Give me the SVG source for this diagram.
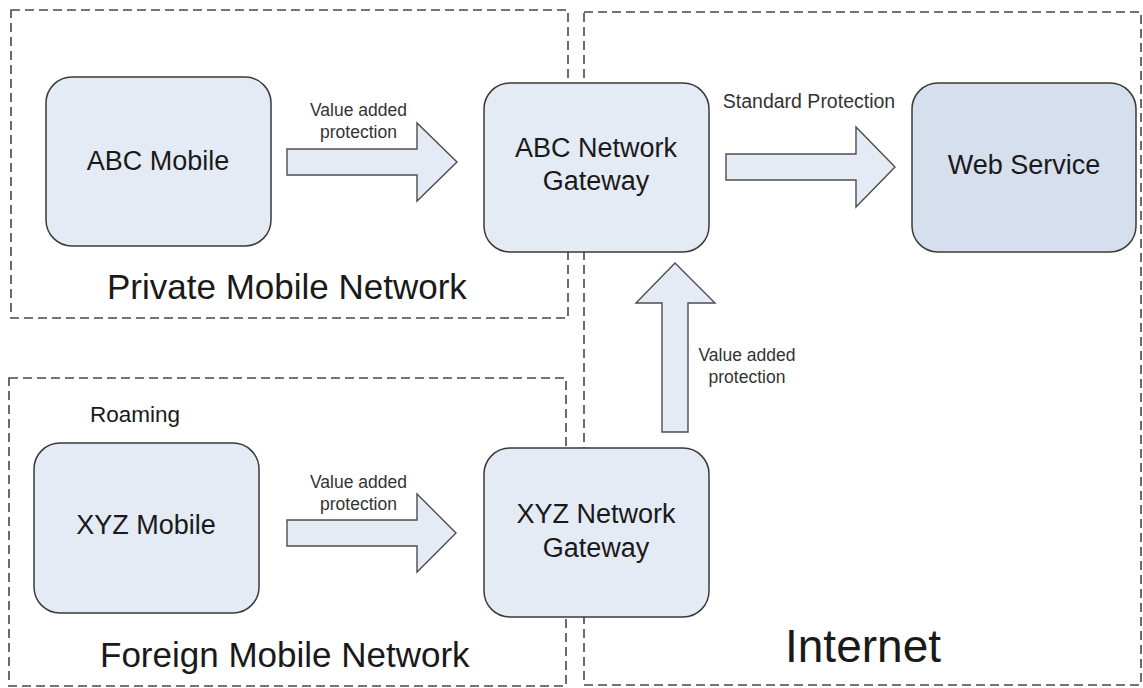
<svg xmlns="http://www.w3.org/2000/svg" width="1143" height="688" viewBox="0 0 1143 688">
  <style>
    text { font-family: "Liberation Sans", Arial, sans-serif; fill: #1a1a1a; }
    .zone { fill: none; stroke: #474747; stroke-width: 1.6; stroke-dasharray: 9 5; }
    .node { fill: #e5ebf5; stroke: #3a3a3a; stroke-width: 1.5; }
    .node.service { fill: #d6dfed; }
    .nlabel { font-size: 27px; text-anchor: middle; }
    .zlabel { font-size: 35px; }
    .flow { fill: #e5ebf5; stroke: #4d4d4d; stroke-width: 1.4; stroke-linejoin: miter; }
    .flabel { font-size: 17.5px; text-anchor: middle; fill: #333; }
  </style>

  <!-- network zones -->
  <g id="zones">
    <g id="zone-private">
      <rect class="zone" x="11" y="10" width="557" height="308"/>
      <text class="zlabel" x="107" y="299">Private Mobile Network</text>
    </g>
    <g id="zone-foreign">
      <rect class="zone" x="9" y="378" width="557" height="308"/>
      <text class="zlabel" x="100" y="667">Foreign Mobile Network</text>
      <text x="90" y="422" style="font-size:22.5px">Roaming</text>
    </g>
    <g id="zone-internet">
      <rect class="zone" x="584" y="12" width="557" height="673"/>
      <text x="785" y="662" style="font-size:46px">Internet</text>
    </g>
  </g>

  <!-- block-arrow connectors -->
  <g id="connectors">
    <g id="abc-mobile-to-abc-gateway">
      <polygon class="flow" points="287,149 417,149 417,123 457,162 417,201 417,175 287,175"/>
      <text class="flabel" x="358.5" y="116">Value added</text>
      <text class="flabel" x="358.5" y="138">protection</text>
    </g>
    <g id="abc-gateway-to-web-service">
      <polygon class="flow" points="726,154 856,154 856,127 895,167 856,207 856,180 726,180"/>
      <text x="809" y="108" style="font-size:19.5px;text-anchor:middle;fill:#333">Standard Protection</text>
    </g>
    <g id="xyz-mobile-to-xyz-gateway">
      <polygon class="flow" points="287,520 417,520 417,494 456,533 417,572 417,546 287,546"/>
      <text class="flabel" x="358.5" y="488">Value added</text>
      <text class="flabel" x="358.5" y="510">protection</text>
    </g>
    <g id="xyz-gateway-to-abc-gateway">
      <polygon class="flow" points="662,432 662,303 636,303 675,263 715,303 688,303 688,432"/>
      <text class="flabel" x="747" y="361">Value added</text>
      <text class="flabel" x="747" y="383">protection</text>
    </g>
  </g>

  <!-- nodes -->
  <g id="abc-mobile">
    <rect class="node" x="46" y="77" width="225" height="169" rx="26"/>
    <text class="nlabel" x="158" y="170">ABC Mobile</text>
  </g>
  <g id="abc-gateway">
    <rect class="node" x="484" y="83" width="225" height="169" rx="26"/>
    <text class="nlabel" x="596" y="157">ABC Network</text>
    <text class="nlabel" x="596" y="190">Gateway</text>
  </g>
  <g id="web-service">
    <rect class="node service" x="912" y="83" width="224" height="169" rx="26"/>
    <text class="nlabel" x="1024" y="174">Web Service</text>
  </g>
  <g id="xyz-mobile">
    <rect class="node" x="34" y="443" width="225" height="170" rx="26"/>
    <text class="nlabel" x="146" y="534">XYZ Mobile</text>
  </g>
  <g id="xyz-gateway">
    <rect class="node" x="484" y="448" width="225" height="169" rx="26"/>
    <text class="nlabel" x="596" y="523">XYZ Network</text>
    <text class="nlabel" x="596" y="557">Gateway</text>
  </g>
</svg>
